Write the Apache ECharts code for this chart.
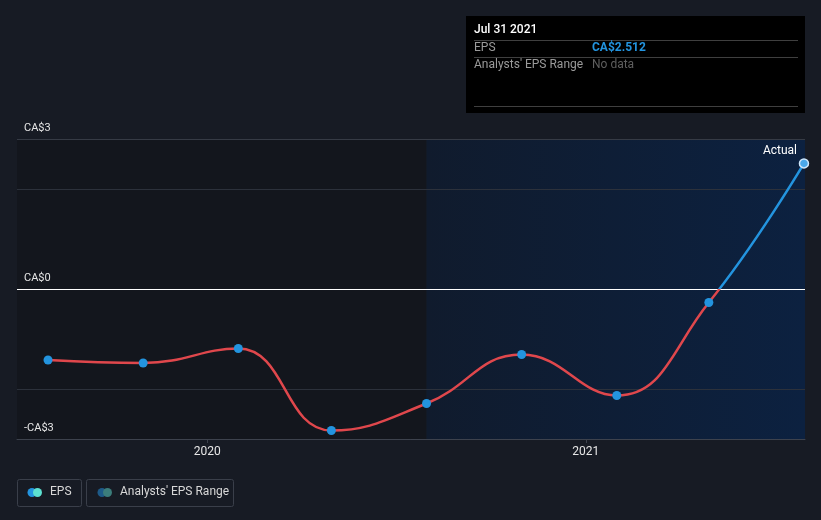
<!DOCTYPE html>
<html>
<head>
<meta charset="utf-8">
<script src="https://cdn.jsdelivr.net/npm/echarts@6/dist/echarts.min.js"></script>
<style>
html,body{margin:0;padding:0;background:#171b24;}
#chart{width:821px;height:520px;}
</style>
</head>
<body>
<div id="chart"></div>
<script>
// ---- data ----
const dates = ['2019-07-31','2019-10-31','2020-01-31','2020-04-30','2020-07-31','2020-10-31','2021-01-31','2021-04-30','2021-07-31'];
const epsValues = [-1.42, -1.48, -1.19, -2.83, -2.29, -1.31, -2.13, -0.27, 2.512];
const yTickValues = [3, 0, -3];
const yTickLabels = ['CA$3', 'CA$0', '-CA$3'];
const xMin = '2019-07-01';
const xMax = '2021-08-01';
const actualStart = '2020-07-31';
const tooltipDate = 'Jul 31 2021';
const tooltipEps = 'CA$2.512';

const FONT = 'Roboto, "Noto Sans", sans-serif';
const chart = echarts.init(document.getElementById('chart'), null, {renderer: 'canvas'});

const lineData = dates.map((d, i) => [d, epsValues[i]]);
const pointData = dates.map((d, i) => {
  const item = {value: [d, epsValues[i]]};
  if (i === dates.length - 1) {
    item.itemStyle = {color: '#4aa8ea', borderColor: '#cfe6fa', borderWidth: 1.5};
  }
  return item;
});

const option = {
  backgroundColor: '#171b24',
  animation: false,
  textStyle: {fontFamily: FONT},
  grid: {left: 17, right: 16, top: 139, bottom: 81, containLabel: false},
  xAxis: {
    type: 'time',
    z: 5,
    min: xMin,
    max: xMax,
    minInterval: 300 * 24 * 3600 * 1000,
    axisLine: {onZero: false, lineStyle: {color: '#3d424d', width: 1}},
    axisTick: {show: true, length: 4, lineStyle: {color: '#3d424d'}},
    axisLabel: {color: '#e6e6e6', fontSize: 12, margin: 7, fontFamily: FONT, formatter: '{yyyy}'},
    splitLine: {show: false}
  },
  yAxis: {
    type: 'value',
    z: 5,
    min: -3,
    max: 3,
    interval: 1,
    axisLine: {show: false},
    axisTick: {show: false},
    axisLabel: {
      inside: true,
      margin: 7,
      color: '#e6e6e6',
      fontSize: 11,
      fontFamily: FONT,
      verticalAlign: 'bottom',
      padding: [0, 0, 5, 0],
      formatter: function (v) {
        const idx = yTickValues.indexOf(v);
        return idx >= 0 ? yTickLabels[idx] : '';
      }
    },
    splitLine: {
      show: true,
      lineStyle: {
        width: 1,
        color: ['rgba(0,0,0,0)', '#2c313b', 'rgba(0,0,0,0)', '#ffffff', 'rgba(0,0,0,0)', '#2c313b', '#363b45']
      }
    }
  },
  visualMap: {
    show: false,
    type: 'piecewise',
    dimension: 1,
    seriesIndex: 1,
    min: -10,
    max: 10,
    pieces: [
      {gte: -10, lt: 0, color: '#e0474c'},
      {gte: 0, lte: 10, color: '#2394df'}
    ]
  },
  series: [
    {
      // background regions
      type: 'line',
      data: [],
      z: 1,
      markArea: {
        silent: true,
        label: {
          show: true,
          position: 'insideTopRight',
          color: '#ffffff',
          fontSize: 12,
          fontFamily: FONT
        },
        data: [
          [
            {xAxis: xMin, itemStyle: {color: '#13161d'}, label: {show: false}},
            {xAxis: actualStart}
          ],
          [
            {
              name: 'Actual',
              xAxis: actualStart,
              itemStyle: {
                color: {
                  type: 'linear', x: 0, y: 0, x2: 1, y2: 0,
                  colorStops: [{offset: 0, color: '#101b2d'}, {offset: 1, color: '#0c2140'}]
                }
              },
              label: {show: true, position: 'insideTopRight', color: '#ffffff', fontSize: 12, distance: 6, offset: [-2, 0]}
            },
            {xAxis: xMax}
          ]
        ]
      }
    },
    {
      type: 'line',
      data: lineData,
      smooth: 0.45,
      symbol: 'none',
      lineStyle: {width: 2.5},
      z: 10
    },
    {
      type: 'line',
      data: pointData,
      symbol: 'circle',
      symbolSize: 9,
      showAllSymbol: true,
      itemStyle: {color: '#2394df'},
      lineStyle: {width: 0, opacity: 0},
      z: 11
    }
  ],
  graphic: [
    {type: 'rect', left: 466, top: 16, shape: {width: 339, height: 97}, style: {fill: '#000000'}, silent: true},
    {type: 'text', left: 474, top: 24, style: {text: tooltipDate, fill: '#ffffff', font: '500 12px ' + FONT}},
    {type: 'line', shape: {x1: 474, y1: 40.5, x2: 798, y2: 40.5}, style: {stroke: '#3f3f3f', lineWidth: 1}},
    {type: 'text', left: 474, top: 42, style: {text: 'EPS', fill: '#9a9a9a', font: '12px ' + FONT}},
    {type: 'text', left: 592, top: 42, style: {text: tooltipEps, fill: '#2394df', font: 'bold 12px ' + FONT}},
    {type: 'line', shape: {x1: 474, y1: 57.5, x2: 798, y2: 57.5}, style: {stroke: '#3f3f3f', lineWidth: 1}},
    {type: 'text', left: 474, top: 59, style: {text: "Analysts' EPS Range", fill: '#9a9a9a', font: '12px ' + FONT}},
    {type: 'text', left: 592, top: 59, style: {text: 'No data', fill: '#5f5f5f', font: '12px ' + FONT}},
    {type: 'line', shape: {x1: 474, y1: 106.5, x2: 798, y2: 106.5}, style: {stroke: '#3f3f3f', lineWidth: 1}},
    {type: 'rect', shape: {x: 17.5, y: 479.5, width: 64, height: 27, r: 2}, style: {fill: 'rgba(0,0,0,0)', stroke: '#3a3f4a', lineWidth: 1}},
    {type: 'circle', shape: {cx: 32, cy: 492.5, r: 4.5}, style: {fill: '#2394df'}},
    {type: 'circle', shape: {cx: 37.5, cy: 492.5, r: 4.5}, style: {fill: '#5ce1d1'}},
    {type: 'text', left: 50, top: 486, style: {text: 'EPS', fill: '#d8d8d8', font: '12px ' + FONT}},
    {type: 'rect', shape: {x: 86.5, y: 479.5, width: 147, height: 27, r: 2}, style: {fill: 'rgba(0,0,0,0)', stroke: '#3a3f4a', lineWidth: 1}},
    {type: 'circle', shape: {cx: 102, cy: 492.5, r: 4.5}, style: {fill: '#1d5a88'}},
    {type: 'circle', shape: {cx: 107.5, cy: 492.5, r: 4.5}, style: {fill: '#3b7d7b'}},
    {type: 'text', left: 120, top: 486, style: {text: "Analysts' EPS Range", fill: '#d8d8d8', font: '12px ' + FONT}}
  ]
};

chart.setOption(option);
</script>
</body>
</html>
